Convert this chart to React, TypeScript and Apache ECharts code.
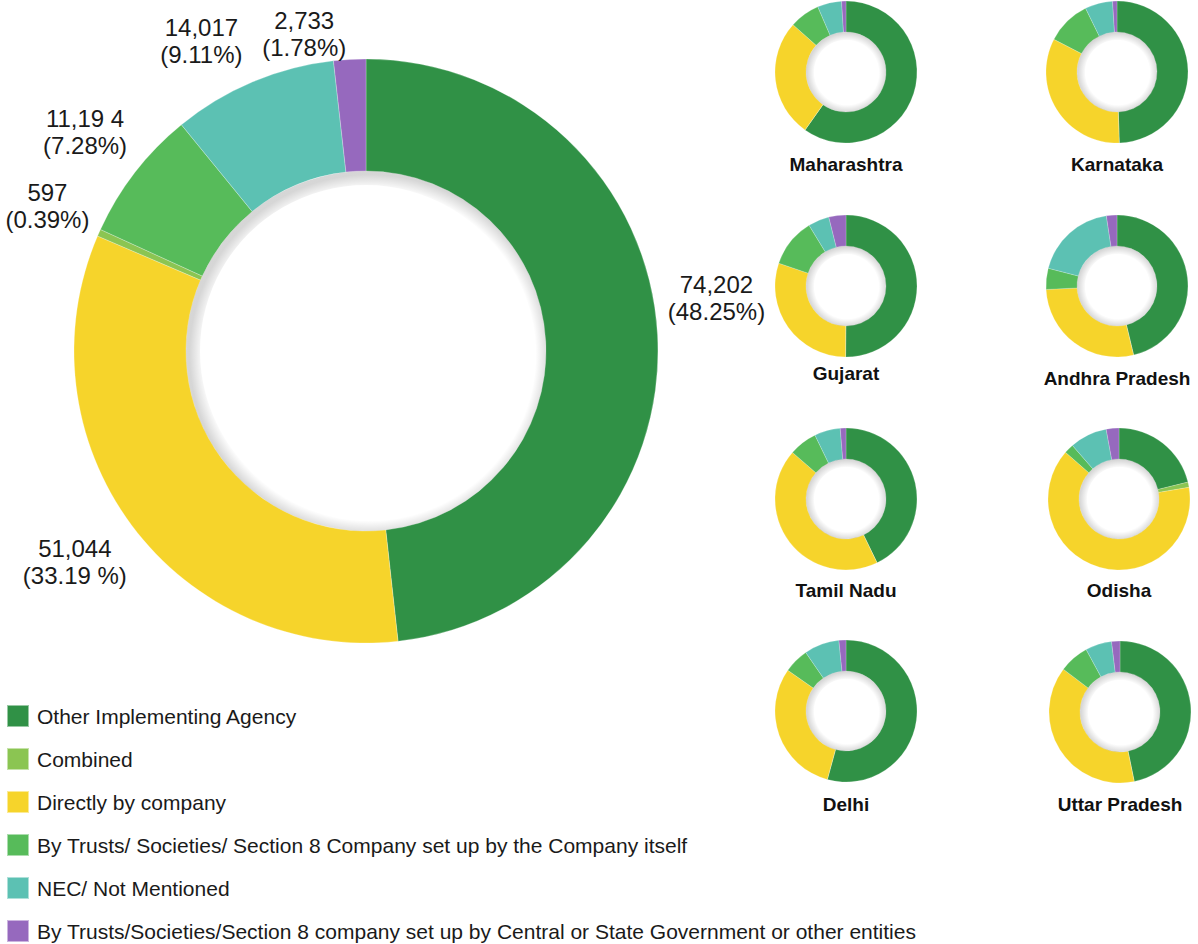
import React, { useEffect, useRef } from 'react';
import * as echarts from 'echarts';

// ---------- data ----------
const CATEGORIES = [
  'Other Implementing Agency',
  'Combined',
  'Directly by company',
  'By Trusts/ Societies/ Section 8 Company set up by the Company itself',
  'NEC/ Not Mentioned',
  'By Trusts/Societies/Section 8 company set up by Central or State Government or other entities',
];
const COLORS = ['#309146', '#8bc552', '#f6d42b', '#57bb5a', '#5cc1b3', '#9669be'];

// main donut, drawing order (clockwise from top)
const MAIN_ORDER = [0, 2, 1, 3, 4, 5];
const MAIN_VALUES = [74202, 51044, 597, 11194, 14017, 2733];
const MAIN_LABELS = [
  '74,202\n(48.25%)',
  '51,044\n(33.19 %)',
  '597\n(0.39%)',
  '11,19 4\n(7.28%)',
  '14,017\n(9.11%)',
  '2,733\n(1.78%)',
];

// states: shares (%) in category order
const STATES = ['Maharashtra', 'Karnataka', 'Gujarat', 'Andhra Pradesh', 'Tamil Nadu', 'Odisha', 'Delhi', 'Uttar Pradesh'];
const maharashtra = [59.8, 0, 26.8, 6.9, 5.5, 1.0];
const karnataka = [49.5, 0, 33.1, 10.1, 6.3, 1.0];
const gujarat = [50.1, 0, 30.1, 11.1, 4.8, 3.9];
const andhraPradesh = [46.3, 0, 28.0, 4.8, 18.6, 2.4];
const tamilNadu = [42.8, 0, 43.6, 6.4, 5.9, 1.3];
const odisha = [21.2, 1.2, 64.1, 2.2, 8.5, 2.9];
const delhi = [54.3, 0, 30.5, 5.7, 8.0, 1.6];
const uttarPradesh = [46.8, 0, 38.5, 6.8, 6.0, 1.9];
const STATE_VALUES = [maharashtra, karnataka, gujarat, andhraPradesh, tamilNadu, odisha, delhi, uttarPradesh];

// ---------- layout ----------
const MAIN_CENTER = [366, 351];
const MAIN_R = [180, 292];
const LABEL_NUDGE = [[-4, -33], [-6, 0], [6, -1], [0, -2], [-27, 17], [-42, 37]];
const SMALL_CENTERS = [[846, 72], [1117, 72], [846, 286], [1117, 286], [846, 499], [1119, 499], [846, 711], [1120, 712]];
const SMALL_R = [40, 71];
const TITLE_Y = [166, 166, 375, 380, 592, 592, 806, 806];

const FONT = '"Liberation Sans", Arial, sans-serif';

function shadowRing(center: number[], r0: number, r: number) {
  return {
    type: 'pie',
    center,
    radius: [r0, r],
    silent: true,
    label: { show: false },
    labelLine: { show: false },
    emphasis: { disabled: true },
    data: [{
      value: 1,
      name: '__shadow',
      itemStyle: {
        color: {
          type: 'radial', x: 0.51, y: 0.51, r: 0.5,
          colorStops: [
            { offset: r0 / r, color: 'rgba(0,0,0,0)' },
            { offset: 1, color: 'rgba(0,0,0,0.16)' },
          ],
        },
      },
    }],
  };
}

function buildOption() {
  const mainData = MAIN_VALUES.map((v, i) => ({
    value: v,
    name: CATEGORIES[MAIN_ORDER[i]],
    itemStyle: { color: COLORS[MAIN_ORDER[i]] },
  }));

  const series: any[] = [
    {
      type: 'pie',
      center: MAIN_CENTER,
      radius: MAIN_R,
      startAngle: 90,
      clockwise: true,
      silent: true,
      emphasis: { disabled: true },
      label: { show: false },
      labelLine: { show: false },
      itemStyle: { borderColor: 'rgba(255,255,255,0.5)', borderWidth: 0.5 },
      data: mainData,
    },
    {
      // transparent ring carrying the value labels just outside the donut
      type: 'pie',
      center: MAIN_CENTER,
      radius: [MAIN_R[1], MAIN_R[1] + 120],
      startAngle: 90,
      clockwise: true,
      silent: true,
      emphasis: { disabled: true },
      itemStyle: { color: 'rgba(0,0,0,0)' },
      labelLine: { show: false },
      label: {
        show: true,
        position: 'inside',
        rotate: 0,
        formatter: (p: any) => MAIN_LABELS[p.dataIndex],
        fontFamily: FONT,
        fontSize: 24,
        lineHeight: 27,
        color: '#1a1a1a',
        align: 'center',
      },
      labelLayout: (p: any) => ({ dx: LABEL_NUDGE[p.dataIndex][0], dy: LABEL_NUDGE[p.dataIndex][1] }),
      data: mainData.map((d) => ({ value: d.value, name: d.name })),
    },
    shadowRing(MAIN_CENTER, MAIN_R[0] - 14, MAIN_R[0]),
  ];

  STATES.forEach((s, si) => {
    series.push({
      type: 'pie',
      name: s,
      center: SMALL_CENTERS[si],
      radius: SMALL_R,
      startAngle: 90,
      clockwise: true,
      silent: true,
      emphasis: { disabled: true },
      label: { show: false },
      labelLine: { show: false },
      itemStyle: { borderColor: 'rgba(255,255,255,0.5)', borderWidth: 0.4 },
      data: STATE_VALUES[si].map((v, ci) => ({
        value: v,
        name: CATEGORIES[ci],
        itemStyle: { color: COLORS[ci] },
      })),
    });
    series.push(shadowRing(SMALL_CENTERS[si], SMALL_R[0] - 8, SMALL_R[0]));
  });

  return {
    animation: false,
    backgroundColor: '#ffffff',
    title: STATES.map((s, i) => ({
      text: s,
      left: SMALL_CENTERS[i][0],
      top: TITLE_Y[i] - 11,
      textAlign: 'center',
      padding: 0,
      textStyle: { fontFamily: FONT, fontSize: 19, fontWeight: 'bold', color: '#111111' },
    })),
    legend: {
      data: CATEGORIES,
      orient: 'vertical',
      left: 6,
      top: 704,
      height: 250,
      itemWidth: 22,
      itemHeight: 22,
      itemGap: 19,
      icon: 'rect',
      selectedMode: false,
      padding: 0,
      textStyle: { fontFamily: FONT, fontSize: 21, lineHeight: 22, color: '#1a1a1a', padding: [0, 0, 0, 3] },
    },
    series,
  };
}

export default function App() {
  const ref = useRef<HTMLDivElement>(null);
  useEffect(() => {
    document.body.style.margin = '0';
    const chart = echarts.init(ref.current!, null, { renderer: 'svg' });
    chart.setOption(buildOption() as any);
    return () => chart.dispose();
  }, []);
  return <div ref={ref} style={{ width: 1198, height: 944 }} />;
}
